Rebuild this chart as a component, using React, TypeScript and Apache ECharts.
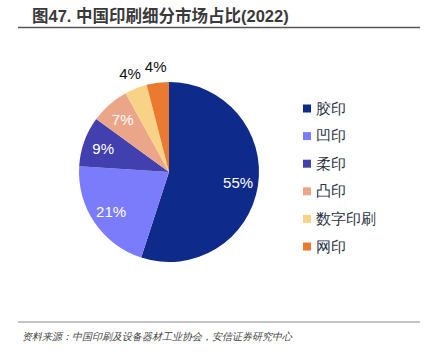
import React, { useEffect, useRef } from "react";
import * as echarts from "echarts";

const titleText = "图47. 中国印刷细分市场占比(2022)";
const sourceText = "资料来源：中国印刷及设备器材工业协会，安信证券研究中心";
const categories = ["胶印", "凹印", "柔印", "凸印", "数字印刷", "网印"];
const shares = [55, 21, 9, 7, 4, 4];
const colors = ["#0e2a8b", "#7b7cfc", "#4140ae", "#eba68a", "#f8d286", "#ea7a2f"];
const outsideLabel = [false, false, false, false, true, true];

export default function App() {
  const ref = useRef<HTMLDivElement>(null);
  useEffect(() => {
    if (!ref.current) return;
    const chart = echarts.init(ref.current, null, { renderer: "svg" });
    const center = [169, 172];
    const main = categories.map((n, i) => ({ name: n, value: shares[i], itemStyle: { color: colors[i] } }));
    const inner = categories.map((n, i) => ({
      name: n,
      value: shares[i],
      itemStyle: { color: "rgba(0,0,0,0)" },
      label: { show: !outsideLabel[i] },
    }));
    const outer = categories.map((n, i) => ({
      name: n,
      value: shares[i],
      itemStyle: { color: "rgba(0,0,0,0)" },
      label: { show: outsideLabel[i] },
    }));
    const labelFont = "Liberation Sans, Arial, sans-serif";
    chart.setOption({
      animation: false,
      backgroundColor: "#ffffff",
      legend: {
        orient: "vertical",
        left: 298,
        top: 96,
        itemWidth: 8,
        itemHeight: 8,
        itemGap: 12.6,
        icon: "rect",
        selectedMode: false,
        data: categories.map((n, i) => ({ name: n, itemStyle: { color: colors[i] } })),
        textStyle: { fontSize: 15, lineHeight: 15, color: "#2a3245", fontFamily: "serif", padding: [0, 0, 0, 0] },
      },
      graphic: [
        {
          type: "text",
          left: 32,
          top: 8,
          style: { text: titleText, fontSize: 16.5, fontWeight: "bold", fill: "#3a3a3a", fontFamily: "Liberation Sans, Noto Sans CJK SC, sans-serif" },
        },
        { type: "line", shape: { x1: 18, y1: 27.5, x2: 420, y2: 27.5 }, style: { stroke: "#555555", lineWidth: 1.5 } },
        { type: "line", shape: { x1: 18, y1: 322, x2: 420, y2: 322 }, style: { stroke: "#8a8a8a", lineWidth: 1.2 } },
        {
          type: "text",
          left: 22,
          top: 331,
          style: { text: sourceText, fontSize: 10, fontStyle: "italic", fill: "#444444", fontFamily: "serif" },
        },
      ],
      series: [
        {
          type: "pie",
          center,
          radius: [0, 90],
          startAngle: 90,
          clockwise: true,
          silent: true,
          label: { show: false },
          labelLine: { show: false },
          data: main,
        },
        {
          type: "pie",
          center,
          radius: [44, 90],
          startAngle: 90,
          clockwise: true,
          silent: true,
          label: { position: "inside", formatter: "{c}%", color: "#ffffff", fontSize: 15, fontFamily: labelFont },
          labelLine: { show: false },
          data: inner,
        },
        {
          type: "pie",
          center,
          radius: [88, 118],
          startAngle: 90,
          clockwise: true,
          silent: true,
          label: { position: "inside", formatter: "{c}%", color: "#111111", fontSize: 15, fontFamily: labelFont },
          labelLine: { show: false },
          data: outer,
        },
      ],
    });
    return () => chart.dispose();
  }, []);
  return <div ref={ref} style={{ position: "fixed", left: 0, top: 0, width: 426, height: 355, background: "#fff" }} />;
}
